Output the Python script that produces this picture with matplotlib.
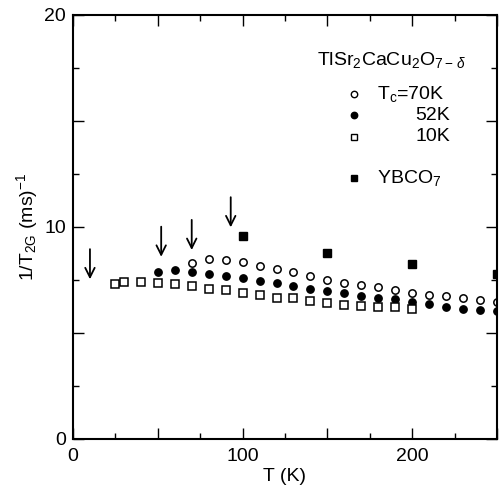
import numpy as np
import matplotlib
matplotlib.use("Agg")
import matplotlib.pyplot as plt
from matplotlib.ticker import MultipleLocator

plt.rcParams['font.family'] = ['Liberation Sans', 'DejaVu Sans']
plt.rcParams['mathtext.fontset'] = 'custom'
plt.rcParams['mathtext.rm'] = 'Liberation Sans'
plt.rcParams['mathtext.it'] = 'Liberation Sans:italic'

# TlSr2CaCu2O7-d, Tc = 70K (open circles)
T_70 = [70, 80, 90, 100, 110, 120, 130, 140, 150, 160, 170, 180, 190, 200,
        210, 220, 230, 240, 250]
r_70 = [8.30, 8.48, 8.45, 8.35, 8.16, 8.00, 7.85, 7.66, 7.50, 7.34, 7.25,
        7.14, 7.03, 6.89, 6.79, 6.75, 6.62, 6.53, 6.43]

# Tc = 52K (filled circles)
T_52 = [50, 60, 70, 80, 90, 100, 110, 120, 130, 140, 150, 160, 170, 180,
        190, 200, 210, 220, 230, 240, 250]
r_52 = [7.88, 7.96, 7.85, 7.78, 7.69, 7.57, 7.45, 7.36, 7.22, 7.06, 6.95,
        6.86, 6.75, 6.65, 6.58, 6.46, 6.34, 6.23, 6.13, 6.07, 6.04]

# Tc = 10K (open squares)
T_10 = [25, 30, 40, 50, 60, 70, 80, 90, 100, 110, 120, 130, 140, 150, 160,
        170, 180, 190, 200]
r_10 = [7.28, 7.39, 7.38, 7.34, 7.28, 7.20, 7.08, 7.00, 6.89, 6.78, 6.65,
        6.62, 6.51, 6.42, 6.32, 6.27, 6.23, 6.20, 6.12]

# YBCO7 (filled squares)
T_ybco = [100, 150, 200, 250]
r_ybco = [9.56, 8.74, 8.24, 7.75]

# arrows marking Tc
arrow_T = [10, 52, 70, 93]
arrow_tip = [7.52, 8.58, 8.90, 9.97]

fig = plt.figure(figsize=(5.01, 4.88), dpi=100)
ax = fig.add_axes([0.1457, 0.101, 0.8463, 0.869])

ms = 5.3
ax.plot(T_70, r_70, 'o', ms=ms, mfc='white', mec='black', mew=1.1, ls='none')
ax.plot(T_52, r_52, 'o', ms=ms, mfc='black', mec='black', mew=1.0, ls='none')
ax.plot(T_10, r_10, 's', ms=ms, mfc='white', mec='black', mew=1.1, ls='none')
ax.plot(T_ybco, r_ybco, 's', ms=ms, mfc='black', mec='black', ls='none')

for t, tip in zip(arrow_T, arrow_tip):
    ax.annotate('', xy=(t, tip), xytext=(t, tip + 1.42),
                arrowprops=dict(arrowstyle='->', lw=1.3, color='black',
                                mutation_scale=17, shrinkA=0, shrinkB=0))

ax.set_xlim(0, 250)
ax.set_ylim(0, 20)
ax.xaxis.set_major_locator(MultipleLocator(50))
ax.xaxis.set_minor_locator(MultipleLocator(25))
ax.yaxis.set_major_locator(MultipleLocator(5))
ax.yaxis.set_minor_locator(MultipleLocator(2.5))
ax.xaxis.set_major_formatter(lambda v, p: f'{v:.0f}' if v % 100 == 0 else '')
ax.yaxis.set_major_formatter(lambda v, p: f'{v:.0f}' if v % 10 == 0 else '')
ax.tick_params(which='both', direction='in', top=True, right=True,
               labelsize=14, width=1.0)
ax.tick_params(axis='x', which='both', pad=7)
ax.tick_params(axis='y', which='both', pad=5)
ax.tick_params(which='major', length=8)
ax.tick_params(which='minor', length=4.5)
for s in ax.spines.values():
    s.set_linewidth(1.5)

ax.set_xlabel('T (K)', fontsize=14, labelpad=2)
ax.set_ylabel(r'1/T$_{\mathregular{2G}}$ (ms)$^{\mathregular{-1}}$',
              fontsize=14, labelpad=3)

# legend block
tf = ax.transAxes
ax.text(0.575, 0.893, r'TlSr$_\mathregular{2}$CaCu$_\mathregular{2}$O$_{\mathregular{7-}\,\delta}$',
        transform=tf, fontsize=14, va='center', ha='left')
key_x = 0.663
rows_y = [0.813, 0.763, 0.712, 0.615]
ax.plot(key_x, rows_y[0], 'o', ms=4.6, mfc='white', mec='black', mew=1.0, transform=tf)
ax.plot(key_x, rows_y[1], 'o', ms=4.6, mfc='black', mec='black', transform=tf)
ax.plot(key_x, rows_y[2], 's', ms=4.6, mfc='white', mec='black', mew=1.0, transform=tf)
ax.plot(key_x, rows_y[3], 's', ms=4.6, mfc='black', mec='black', transform=tf)
ax.text(0.717, rows_y[0], r'T$_\mathregular{c}$=70K', transform=tf, fontsize=14,
        va='center', ha='left')
ax.text(0.889, rows_y[1], '52K', transform=tf, fontsize=14, va='center', ha='right')
ax.text(0.889, rows_y[2], '10K', transform=tf, fontsize=14, va='center', ha='right')
ax.text(0.717, rows_y[3], r'YBCO$_\mathregular{7}$', transform=tf, fontsize=14,
        va='center', ha='left')

fig.savefig('out.png', dpi=100)
